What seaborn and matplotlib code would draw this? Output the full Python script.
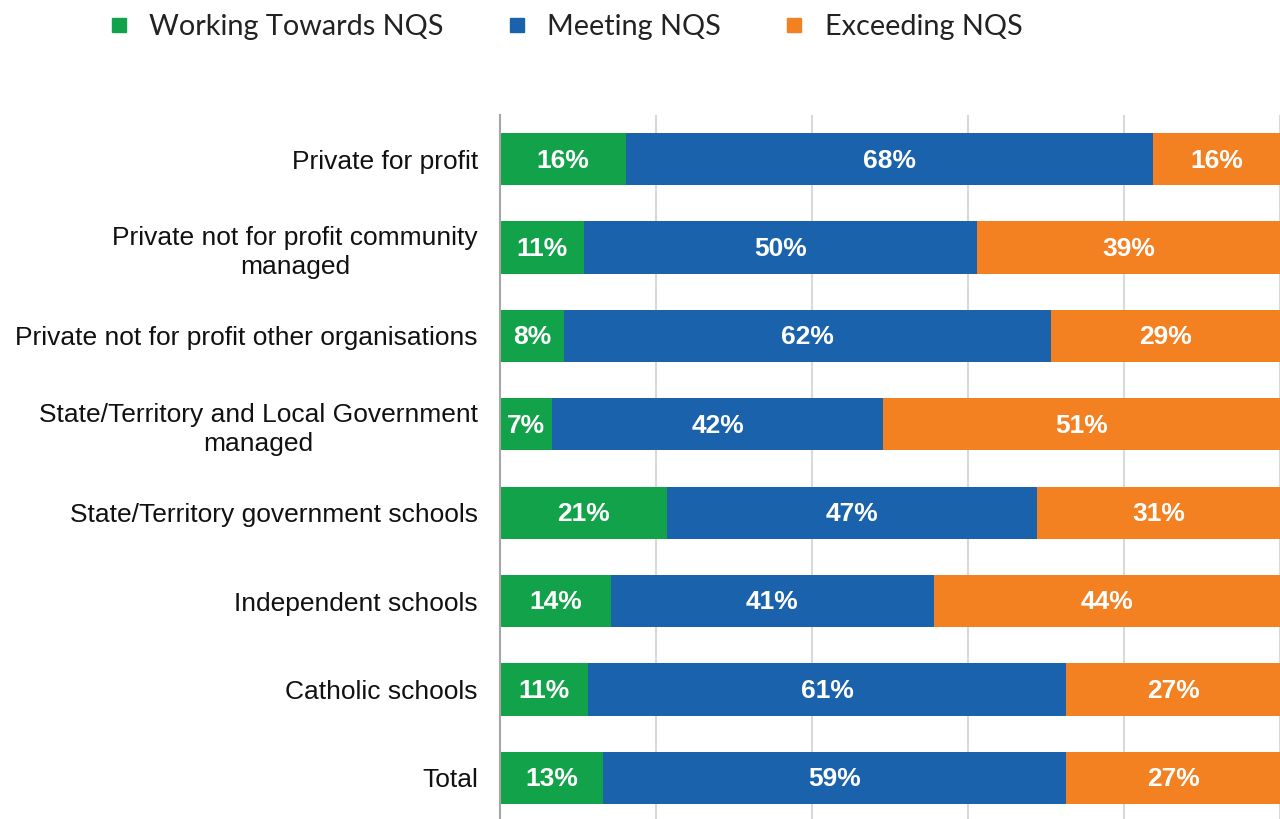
import numpy as np
import pandas as pd
import matplotlib
matplotlib.use("Agg")
import matplotlib.pyplot as plt
import seaborn as sns
from matplotlib.lines import Line2D

categories = [
    "Private for profit",
    "Private not for profit community\nmanaged",
    "Private not for profit other organisations",
    "State/Territory and Local Government\nmanaged",
    "State/Territory government schools",
    "Independent schools",
    "Catholic schools",
    "Total",
]
working = [16.2, 10.8, 8.2, 6.7, 21.4, 14.2, 11.3, 13.2]
meeting = [67.5, 50.4, 62.4, 42.4, 47.4, 41.4, 61.3, 59.4]
exceeding = [16.3, 38.8, 29.4, 50.9, 31.2, 44.4, 27.4, 27.4]
series_names = ["Working Towards NQS", "Meeting NQS", "Exceeding NQS"]
colors = ["#12A24A", "#1B62AC", "#F38121"]

df = pd.DataFrame({"cat": categories, "w": working, "m": meeting, "e": exceeding})
df["c1"] = df["w"]
df["c2"] = df["w"] + df["m"]
df["c3"] = df["w"] + df["m"] + df["e"]

sns.set_theme(style="white")
plt.rcParams["font.family"] = ["Liberation Sans", "DejaVu Sans"]

fig = plt.figure(figsize=(12.8, 8.19), dpi=100)
ax = fig.add_axes([500/1280, -3/819, 780/1280, 707/819])

bw = 0.59
for col, c in zip(["c3", "c2", "c1"], [colors[2], colors[1], colors[0]]):
    sns.barplot(data=df, x=col, y="cat", color=c, width=bw, saturation=1,
                ax=ax, orient="h", linewidth=0)

# labels
for i in range(len(categories)):
    starts = [0, df["c1"][i], df["c2"][i]]
    vals = [working[i], meeting[i], exceeding[i]]
    for s, v in zip(starts, vals):
        ax.text(s + v / 2, i + 0.015, f"{round(v)}%", ha="center", va="center",
                color="white", fontsize=19, fontweight="bold")

ax.set_xlim(0, 100)
ax.set_ylim(7.5, -0.5)
ax.set_xticks([20, 40, 60, 80, 100])
ax.set_xticklabels([])
ax.xaxis.grid(True, color="#D9D9D9", linewidth=1.5)
ax.set_axisbelow(True)
ax.set_xlabel("")
ax.set_ylabel("")
for s in ["top", "right", "bottom"]:
    ax.spines[s].set_visible(False)
ax.spines["left"].set_color("#A6A6A6")
ax.spines["left"].set_linewidth(1.5)
ax.tick_params(axis="y", length=0, pad=16, labelsize=19, labelcolor="#111111")
for lab in ax.get_yticklabels():
    lab.set_horizontalalignment("right")
    lab.set_multialignment("center")
    lab.set_linespacing(1.28)

handles = [Line2D([0], [0], marker="s", linestyle="none", markersize=10,
                  markerfacecolor=c, markeredgecolor=c) for c in colors]
leg = fig.legend(handles, series_names, loc="upper left",
                 bbox_to_anchor=(107/1280, 1 - 14.5/819), ncol=3, frameon=False,
                 prop={"family": "Lato", "size": 20.8}, handletextpad=0.66,
                 columnspacing=2.13, handlelength=0.8, borderpad=0,
                 borderaxespad=0)
for t in leg.get_texts():
    t.set_color("#222222")

fig.savefig("out.png", dpi=100)
